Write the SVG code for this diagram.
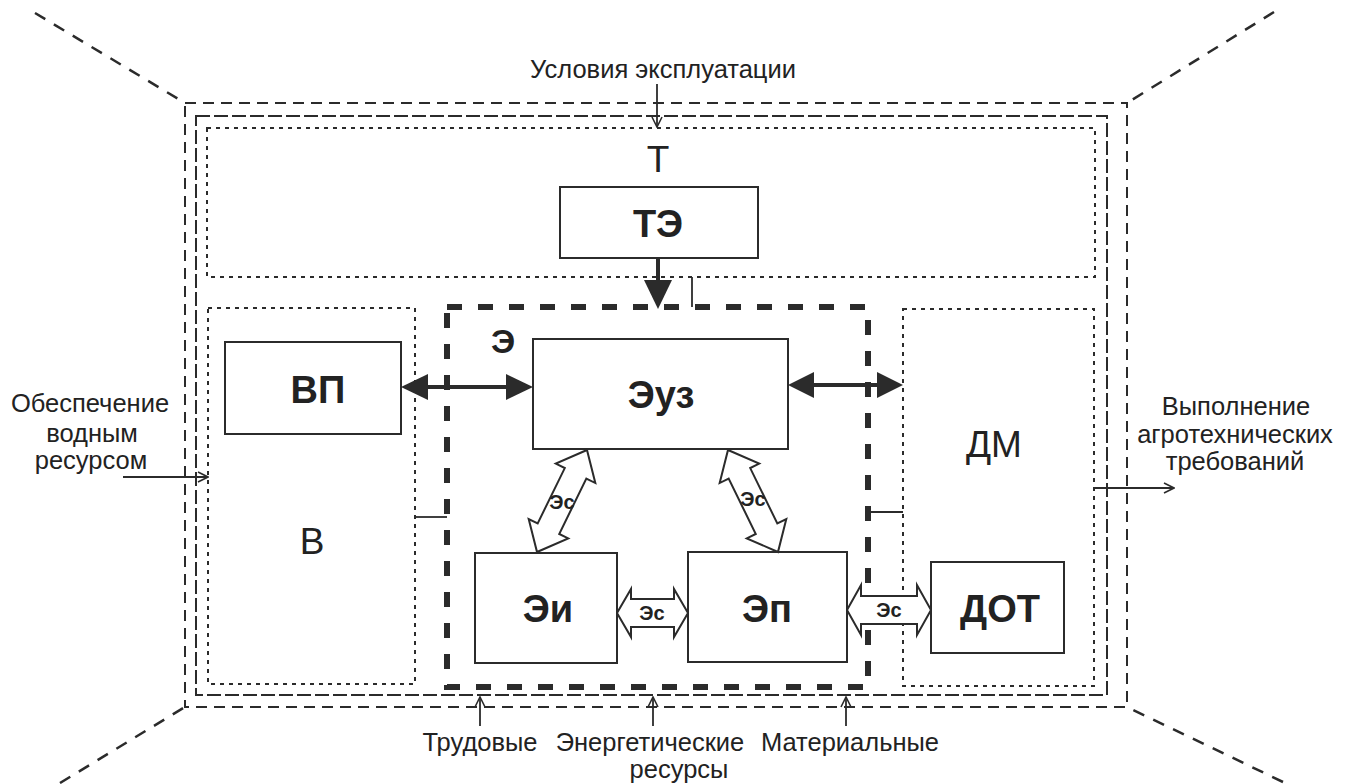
<svg xmlns="http://www.w3.org/2000/svg" width="1352" height="784" viewBox="0 0 1352 784">
<style>
  .bg{fill:#ffffff}
  .box{fill:#ffffff;stroke:#2b2b2b;stroke-width:2}
  .outer{fill:none;stroke:#2b2b2b;stroke-width:2;stroke-dasharray:11 7}
  .second{fill:none;stroke:#2b2b2b;stroke-width:2;stroke-dasharray:14 4}
  .dotted{fill:none;stroke:#2b2b2b;stroke-width:2;stroke-dasharray:4 5}
  .diag{fill:none;stroke:#2b2b2b;stroke-width:2.5;stroke-dasharray:12 10}
  .thick{fill:none;stroke:#2b2b2b;stroke-width:6;stroke-dasharray:15 16}
  .thin{fill:none;stroke:#2b2b2b;stroke-width:1.8}
  .bold{fill:none;stroke:#2b2b2b;stroke-width:4}
  .head{fill:#2b2b2b;stroke:none}
  .block{fill:#ffffff;stroke:#2b2b2b;stroke-width:2;stroke-linejoin:miter}
  .t{font-family:"Liberation Sans",Arial,sans-serif;fill:#222;text-anchor:middle}
  .reg{font-size:25.5px}
  .big{font-size:37px}
  .lbl{font-size:38px;font-weight:bold}
  .es{font-size:20px;font-weight:bold}
</style>
<defs>
  <marker id="open" viewBox="0 0 12 12" refX="11" refY="6" markerWidth="12" markerHeight="12" markerUnits="userSpaceOnUse" orient="auto">
    <path d="M1,1 L11,6 L1,11" fill="none" stroke="#2b2b2b" stroke-width="1.6"/>
  </marker>
</defs>
<rect class="bg" x="0" y="0" width="1352" height="784"/>

<g id="frame">
  <line class="diag" x1="35" y1="13" x2="185" y2="103"/>
  <line class="diag" x1="1274" y1="12" x2="1127" y2="103"/>
  <line class="diag" x1="60" y1="783" x2="185" y2="707"/>
  <line class="diag" x1="1283" y1="782" x2="1127" y2="707"/>
  <rect class="outer" x="185" y="103" width="942" height="604"/>
  <rect class="second" x="196" y="116" width="911" height="579"/>
</g>

<g id="T">
  <rect class="dotted" x="207" y="128" width="888" height="149"/>
  <text class="t big" x="658" y="172">Т</text>
</g>
<g id="TE">
  <rect class="box" x="560" y="187" width="198" height="71"/>
  <text class="t lbl" x="658" y="237">ТЭ</text>
</g>
<g id="B">
  <rect class="dotted" x="208" y="308" width="207" height="376"/>
  <text class="t big" x="312" y="554">В</text>
</g>
<g id="VP">
  <rect class="box" x="225" y="342" width="176" height="92"/>
  <text class="t lbl" x="318" y="403">ВП</text>
</g>
<g id="E">
  <rect class="thick" x="447" y="307" width="421" height="380"/>
  <text class="t" x="503" y="353" style="font-size:34px;font-weight:bold">Э</text>
</g>
<g id="Euz">
  <rect class="box" x="533" y="339" width="255" height="110"/>
  <text class="t lbl" x="661" y="408">Эуз</text>
</g>
<g id="Ei">
  <rect class="box" x="475" y="553" width="142" height="110"/>
  <text class="t lbl" x="548" y="622">Эи</text>
</g>
<g id="Ep">
  <rect class="box" x="688" y="552" width="159" height="110"/>
  <text class="t lbl" x="767" y="622">Эп</text>
</g>
<g id="DM">
  <rect class="dotted" x="903" y="309" width="191" height="377"/>
  <text class="t big" x="994" y="457">ДМ</text>
</g>
<g id="DOT">
  <rect class="box" x="931" y="562" width="133" height="91"/>
  <text class="t lbl" x="1000" y="622">ДОТ</text>
</g>

<g id="labels">
  <text class="t reg" x="663" y="78">Условия эксплуатации</text>
  <text class="t reg" x="90" y="412">Обеспечение</text>
  <text class="t reg" x="92" y="442">водным</text>
  <text class="t reg" x="91" y="469">ресурсом</text>
  <text class="t reg" x="1236" y="415">Выполнение</text>
  <text class="t reg" x="1235" y="443">агротехнических</text>
  <text class="t reg" x="1235" y="470">требований</text>
  <text class="t reg" x="480" y="751">Трудовые</text>
  <text class="t reg" x="650" y="751">Энергетические</text>
  <text class="t reg" x="850" y="751">Материальные</text>
  <text class="t reg" x="679" y="778">ресурсы</text>
</g>

<g id="connectors">
  <line class="thin" x1="657" y1="84" x2="657" y2="127" marker-end="url(#open)"/>
  <line class="thin" x1="123" y1="477" x2="208" y2="477" marker-end="url(#open)"/>
  <line class="thin" x1="1094" y1="488" x2="1174" y2="488" marker-end="url(#open)"/>
  <line class="thin" x1="480" y1="726" x2="480" y2="697" marker-end="url(#open)"/>
  <line class="thin" x1="653" y1="726" x2="653" y2="697" marker-end="url(#open)"/>
  <line class="thin" x1="846" y1="726" x2="846" y2="697" marker-end="url(#open)"/>
  <line class="thin" x1="692" y1="277" x2="692" y2="307"/>
  <line class="thin" x1="415" y1="517" x2="447" y2="517"/>
  <line class="thin" x1="868" y1="512" x2="903" y2="512"/>
  <line class="bold" x1="658" y1="258" x2="658" y2="284"/>
  <polygon class="head" points="644,280 672,280 658,309"/>
  <line class="bold" x1="426" y1="387" x2="508" y2="387"/>
  <polygon class="head" points="401,387 428,374 428,400"/>
  <polygon class="head" points="533,387 506,374 506,400"/>
  <line class="bold" x1="812" y1="385" x2="879" y2="385"/>
  <polygon class="head" points="788,385 814,372 814,398"/>
  <polygon class="head" points="903,385 877,372 877,398"/>
  <path class="block" transform="translate(587,450) rotate(116.1)" d="M0,0 L26,-22 L26,-12 L87.6,-12 L87.6,-22 L113.6,0 L87.6,22 L87.6,12 L26,12 L26,22 Z"/>
  <path class="block" transform="translate(728,450) rotate(63.9)" d="M0,0 L26,-22 L26,-12 L87.6,-12 L87.6,-22 L113.6,0 L87.6,22 L87.6,12 L26,12 L26,22 Z"/>
  <path class="block" transform="translate(617,613)" d="M0,0 L14,-24 L14,-14 L57,-14 L57,-24 L71,0 L57,24 L57,14 L14,14 L14,24 Z"/>
  <path class="block" transform="translate(847,610)" d="M0,0 L14,-25 L14,-14 L70,-14 L70,-25 L84,0 L70,25 L70,14 L14,14 L14,25 Z"/>
  <text class="t es" x="562" y="509">Эс</text>
  <text class="t es" x="753" y="506">Эс</text>
  <text class="t es" x="652" y="620">Эс</text>
  <text class="t es" x="889" y="617">Эс</text>
</g>
</svg>
